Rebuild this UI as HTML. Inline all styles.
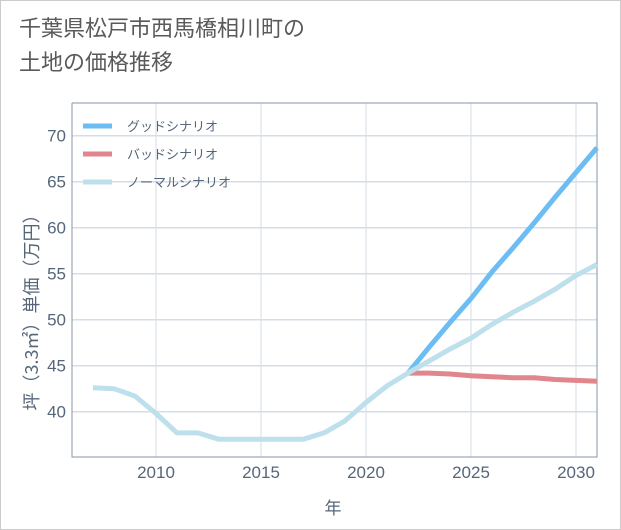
<!DOCTYPE html>
<html><head><meta charset="utf-8"><style>
body{margin:0;background:#fff;}
#card{position:relative;width:619px;height:528px;border:1px solid #ccc;background:#fff;font-family:"Liberation Sans","Noto Sans CJK JP",sans-serif;}
#title{position:absolute;left:18px;top:11px;font-size:22px;line-height:34px;color:#5a5a5a;}
svg text{font-family:"Liberation Sans","Noto Sans CJK JP",sans-serif;}
</style></head><body>
<div id="card">
<div id="title">千葉県松戸市西馬橋相川町の<br>土地の価格推移</div>
<svg id="chart" width="621" height="530" style="position:absolute;left:-1px;top:-1px"></svg>
</div>
<script>
const years=[2007,2008,2009,2010,2011,2012,2013,2014,2015,2016,2017,2018,2019,2020,2021,2022,2023,2024,2025,2026,2027,2028,2029,2030,2031];
const normal=[42.6,42.5,41.7,39.8,37.7,37.7,37.0,37.0,37.0,37.0,37.0,37.7,39.0,41.0,42.8,44.2,45.5,46.8,48.0,49.5,50.8,52.0,53.3,54.8,56.0];
const futureYears=[2022,2023,2024,2025,2026,2027,2028,2029,2030,2031];
const good=[44.2,47.0,49.7,52.3,55.2,57.8,60.5,63.3,66.0,68.7];
const bad=[44.2,44.2,44.1,43.9,43.8,43.7,43.7,43.5,43.4,43.3];
const xTicks=[2010,2015,2020,2025,2030];
const yTicks=[40,45,50,55,60,65,70];
const L=72,R=597,T=103,B=457;
const X=v=>L+(v-2006)/(2031-2006)*(R-L);
const Y=v=>411.7-(v-40)*9.2;
const svg=document.getElementById('chart');
const NS='http://www.w3.org/2000/svg';
function mk(tag,attrs,parent){const e=document.createElementNS(NS,tag);for(const k in attrs)e.setAttribute(k,attrs[k]);(parent||svg).appendChild(e);return e;}
let e;
e=mk('rect',{x:L,y:T,width:R-L,height:B-T,fill:'#fff',stroke:'none'});


xTicks.forEach(t=>{
 e=mk('line',{x1:X(t),x2:X(t),y1:T,y2:B,stroke:'#d5dde6','stroke-width':1});
 
 
 e=mk('text',{x:X(t),y:478,'text-anchor':'middle','font-size':17,fill:'#56667a'});e.textContent=t;
 
 
});
yTicks.forEach(t=>{
 e=mk('line',{x1:L,x2:R,y1:Y(t),y2:Y(t),stroke:'#d5dde6','stroke-width':1.5});
 
 
 e=mk('text',{x:66,y:Y(t)+6,'text-anchor':'end','font-size':17,fill:'#56667a'});e.textContent=t;
 
 
});
e=mk('path',{d:`M${L} ${T}V${B}H${R}V${T}H${L}`,fill:'none',stroke:'#8a96a3','stroke-width':1});


function line(xs,ys,color,name){
 const d=xs.map((x,i)=>(i?'L':'M')+X(x).toFixed(1)+' '+Y(ys[i]).toFixed(1)).join(' ');
 const p=mk('path',{d,fill:'none',stroke:color,'stroke-width':5,'stroke-linejoin':'round'});
 
 
}
line(futureYears,bad,'#e0868c','bad-scenario-line');
line(futureYears,good,'#6cbdf3','good-scenario-line');
line(years,normal,'#bde0ec','normal-scenario-line');
const legend=[['グッドシナリオ','#6cbdf3'],['バッドシナリオ','#e0868c'],['ノーマルシナリオ','#bde0ec']];
legend.forEach((l,i)=>{
 const y=126+i*28;
 e=mk('line',{x1:83,x2:112,y1:y,y2:y,stroke:l[1],'stroke-width':5});
 
 
 e=mk('text',{x:127,y:y+5,'font-size':13,fill:'#56667a'});e.textContent=l[0];
 
 
});
e=mk('text',{x:333,y:514,'text-anchor':'middle','font-size':17,fill:'#56667a'});e.textContent='年';


e=mk('text',{x:0,y:0,'text-anchor':'middle','font-size':18,fill:'#56667a',transform:'translate(38,308) rotate(-90)',style:'font-family:"Noto Sans CJK JP",sans-serif'});e.textContent='坪（3.3㎡）単価（万円）';


</script>
</body></html>
